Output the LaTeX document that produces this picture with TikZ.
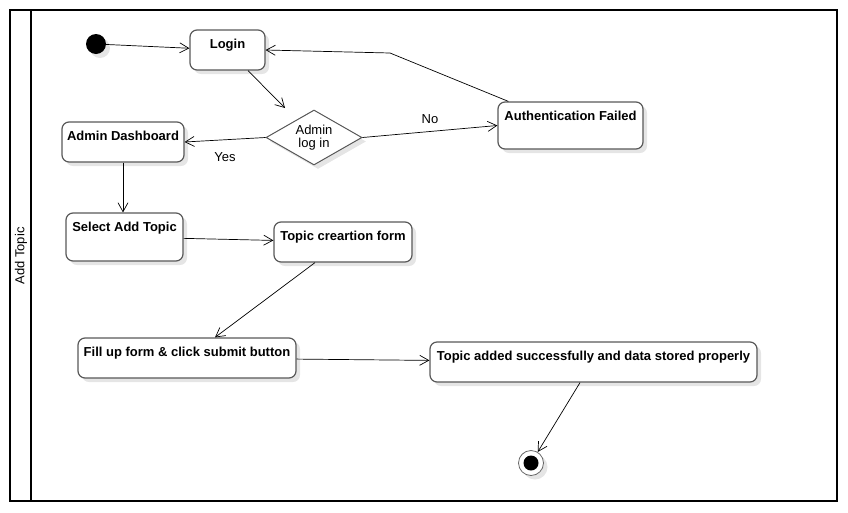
\documentclass[tikz,border=0pt]{standalone}
\usepackage{fontspec}
\setmainfont{Liberation Sans}
\usetikzlibrary{shapes.geometric,arrows.meta,calc,shadows}

\begin{document}
\begin{tikzpicture}[x=1pt,y=-1pt,>={Straight Barb[length=9pt,width=10pt]}]
            \tikzstyle{every node}+=[inner sep=0pt, font=\fontsize{13}{13}\selectfont]
            \tikzstyle{shade}=[drop shadow={shadow xshift=4pt, shadow yshift=-4pt, fill=black!10, opacity=1}]
            \tikzstyle{act}=[draw=black!65, line width=1.2pt, fill=white, rounded corners=7pt, shade, font=\fontsize{13}{13}\selectfont\bfseries, text height=9.5pt, text depth=13.5pt]
            \tikzstyle{dec}=[diamond, draw=black!65, line width=1pt, fill=white, shade, minimum width=96pt, minimum height=55pt, aspect=1.75, align=center]
            \tikzstyle{initst}=[circle, fill=black, minimum size=20pt, shade]
            \tikzstyle{finalst}=[circle, draw=black!60, line width=0.8pt, fill=white, minimum size=25pt, shade]
            \tikzstyle{flow}=[->, black, line width=0.7pt]
            \useasboundingbox (0,0) rectangle (848,512);
            % swimlane
            \draw [line width=2pt] (10,10) rectangle (837,501);
            \draw [line width=2pt] (31,10) -- (31,501);
            \node [rotate=90] (lane) at (21,256) {Add Topic};
            % states
            \node [initst] (init) at (96,44) {};
            \node [act, minimum width=75pt, minimum height=40pt] (login) at (227.5,50) {Login};
            \node [dec] (dec) at (314,137.5) {Admin\\log in};
            \node [act, minimum width=122pt, minimum height=40pt] (admin) at (123,142) {Admin Dashboard};
            \node [act, minimum width=145pt, minimum height=47pt, text depth=20.5pt] (auth) at (570.5,125.5) {Authentication Failed};
            \node [act, minimum width=117pt, minimum height=48pt, text depth=21.5pt] (select) at (124.5,237) {Select Add Topic};
            \node [act, minimum width=138pt, minimum height=40pt] (form) at (343,242) {Topic creartion form};
            \node [act, minimum width=218pt, minimum height=40pt] (fillform) at (187,358) {Fill up form \& click submit button};
            \node [act, minimum width=327pt, minimum height=40pt] (added) at (593.5,362) {Topic added successfully and data stored properly};
            \node [finalst] (final) at (531,463) {};
            \fill [black] (final) circle (7.5pt);
            % transitions
            \coordinate (dectop) at (285,108);
            \coordinate (authbend) at (390,53);
            \draw [flow] (init) -- (login);
            \draw [flow] ($(login.south)+(20.5,0)$) -- (dectop);
            \draw [flow] (dec.west) -- (admin.east) node [pos=0.5, below=12pt] {Yes};
            \draw [flow] (dec.east) -- (auth.west) node [pos=0.5, above=8pt] {No};
            \draw [flow] ($(auth.north west)+(11,0)$) -- (authbend) -- (login.east);
            \draw [flow] (admin.south) -- (admin.south|-select.north);
            \draw [flow] (select) -- (form);
            \draw [flow] ($(form.south)+(-28,0)$) -- ($(fillform.north)+(28,0)$);
            \draw [flow] (fillform) -- (added);
            \draw [flow] ($(added.south)+(-13.5,0)$) -- (final);
        \end{tikzpicture}
\end{document}
